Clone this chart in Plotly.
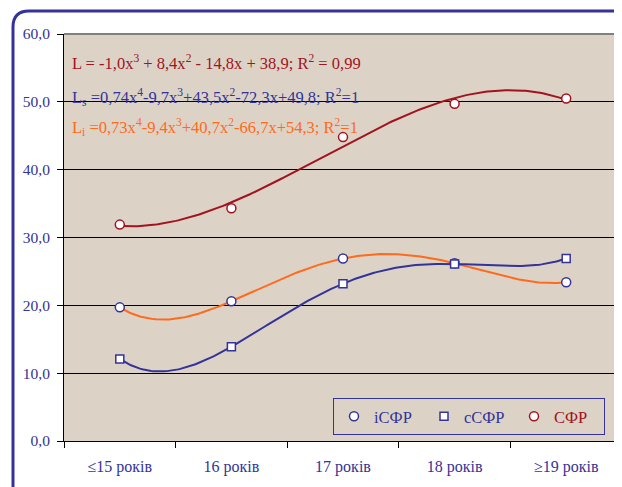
import numpy as np
import plotly.graph_objects as go

categories = ["≤15 років", "16 років", "17 років", "18 років", "≥19 років"]
x_pos = [1, 2, 3, 4, 5]
i_sfr = [19.7, 20.6, 26.9, 26.2, 23.4]
c_sfr = [12.1, 13.9, 23.2, 26.1, 26.9]
sfr = [31.9, 34.3, 44.8, 49.7, 50.5]

eq_sfr = "L = -1,0x<sup>3</sup> + 8,4x<sup>2</sup> - 14,8x + 38,9; R<sup>2</sup> = 0,99"
eq_c = "L<sub>s</sub> =0,74x<sup>4</sup>-9,7x<sup>3</sup>+43,5x<sup>2</sup>-72,3x+49,8; R<sup>2</sup>=1"
eq_i = "L<sub>i</sub> =0,73x<sup>4</sup>-9,4x<sup>3</sup>+40,7x<sup>2</sup>-66,7x+54,3; R<sup>2</sup>=1"

BLUE = "#333399"
RED = "#A3121E"
ORANGE = "#FF6A1C"
BG = "#DCD3C6"
FONT = "Times New Roman"

# page has an 8px body margin: screen coords = figure coords + 8
OFF = 8
W, H = 622, 487
L, R, T, B = 64 - OFF, 8, 34 - OFF, H - (441 - OFF)
pw, ph = W - L - R, H - T - B

def px(x):  # screen x -> paper
    return (x - OFF - L) / pw

def py(y):  # screen y -> paper
    return (H - B - (y - OFF)) / ph

xf = np.linspace(1, 5, 200)
fit_sfr = np.polyval(np.polyfit(x_pos, sfr, 3), xf)
fit_c = np.polyval(np.polyfit(x_pos, c_sfr, 4), xf)
fit_i = np.polyval(np.polyfit(x_pos, i_sfr, 4), xf)

fig = go.Figure()
for yf, col in [(fit_i, ORANGE), (fit_c, BLUE), (fit_sfr, RED)]:
    fig.add_trace(go.Scatter(x=xf, y=yf, mode="lines", line=dict(color=col, width=2),
                             showlegend=False, hoverinfo="skip"))

fig.add_trace(go.Scatter(x=x_pos, y=i_sfr, mode="markers", xaxis="x2",
                         name=f"<span style='color:{BLUE}'>іСФР</span>",
                         marker=dict(symbol="circle", size=9, color="white", line=dict(color=BLUE, width=1.5))))
fig.add_trace(go.Scatter(x=x_pos, y=c_sfr, mode="markers", xaxis="x2",
                         name=f"<span style='color:{BLUE}'>cСФР</span>",
                         marker=dict(symbol="square", size=8, color="white", line=dict(color=BLUE, width=1.5))))
fig.add_trace(go.Scatter(x=x_pos, y=sfr, mode="markers", xaxis="x2",
                         name=f"<span style='color:{RED}'>СФР</span>",
                         marker=dict(symbol="circle", size=9, color="white", line=dict(color=RED, width=1.5))))

# outer rounded frame (screen coords)
x0, y0, x1, y1, r = px(13), py(11), px(660), py(500), 16
rx, ry = r / pw, r / ph
path = (f"M {x0},{y1} L {x0},{y0-ry} Q {x0},{y0} {x0+rx},{y0} L {x1},{y0}")
shapes = [
    dict(type="path", path=path, xref="paper", yref="paper", line=dict(color=BLUE, width=3), layer="above"),
    dict(type="line", xref="paper", yref="paper", x0=0, x1=1.02, y0=1, y1=1, line=dict(color="#808080", width=2)),
]

annotations = []
for txt, col, yy in [(eq_sfr, RED, 63), (eq_c, BLUE, 97), (eq_i, ORANGE, 127)]:
    annotations.append(dict(text=txt, xref="paper", yref="paper", x=px(70), y=py(yy), xanchor="left",
                            yanchor="middle", showarrow=False, font=dict(family=FONT, size=16.5, color=col)))

boundaries = [0.5, 1.5, 2.5, 3.5, 4.5, 5.5]

fig.update_layout(
    width=W, height=H,
    margin=dict(l=L, r=R, t=T, b=B, autoexpand=False),
    paper_bgcolor="white", plot_bgcolor=BG,
    separators=",.",
    font=dict(family=FONT, size=15, color=BLUE),
    shapes=shapes, annotations=annotations,
    xaxis=dict(range=[0.5, 5.5], tickmode="array", tickvals=boundaries, ticktext=[""] * 6, automargin=False,
               ticks="outside", ticklen=6, tickcolor="black", showgrid=False, zeroline=False,
               showline=True, linecolor="black", linewidth=1),
    xaxis2=dict(overlaying="x", matches="x", side="bottom", range=[0.5, 5.5], tickmode="array",
                tickvals=x_pos, ticktext=categories, automargin=False, ticks="", showgrid=False,
                zeroline=False, showline=False, ticklabelstandoff=14,
                tickfont=dict(family=FONT, size=16, color=BLUE)),
    yaxis=dict(range=[0, 60], tickmode="linear", tick0=0, dtick=10, tickformat=".1f", automargin=False,
               ticks="outside", ticklen=6, tickcolor="black", showgrid=True, gridcolor="black",
               gridwidth=1, zeroline=False, showline=True, linecolor="black", linewidth=1,
               tickfont=dict(family=FONT, size=15.5, color=BLUE), ticklabelstandoff=4),
    legend=dict(orientation="h", x=px(333), y=py(398), xanchor="left", yanchor="top",
                bgcolor="rgba(0,0,0,0)", bordercolor=BLUE, borderwidth=1,
                font=dict(family=FONT, size=16.5), entrywidth=45, itemwidth=30,
                traceorder="normal"),
)

fig.write_html("out.html")
